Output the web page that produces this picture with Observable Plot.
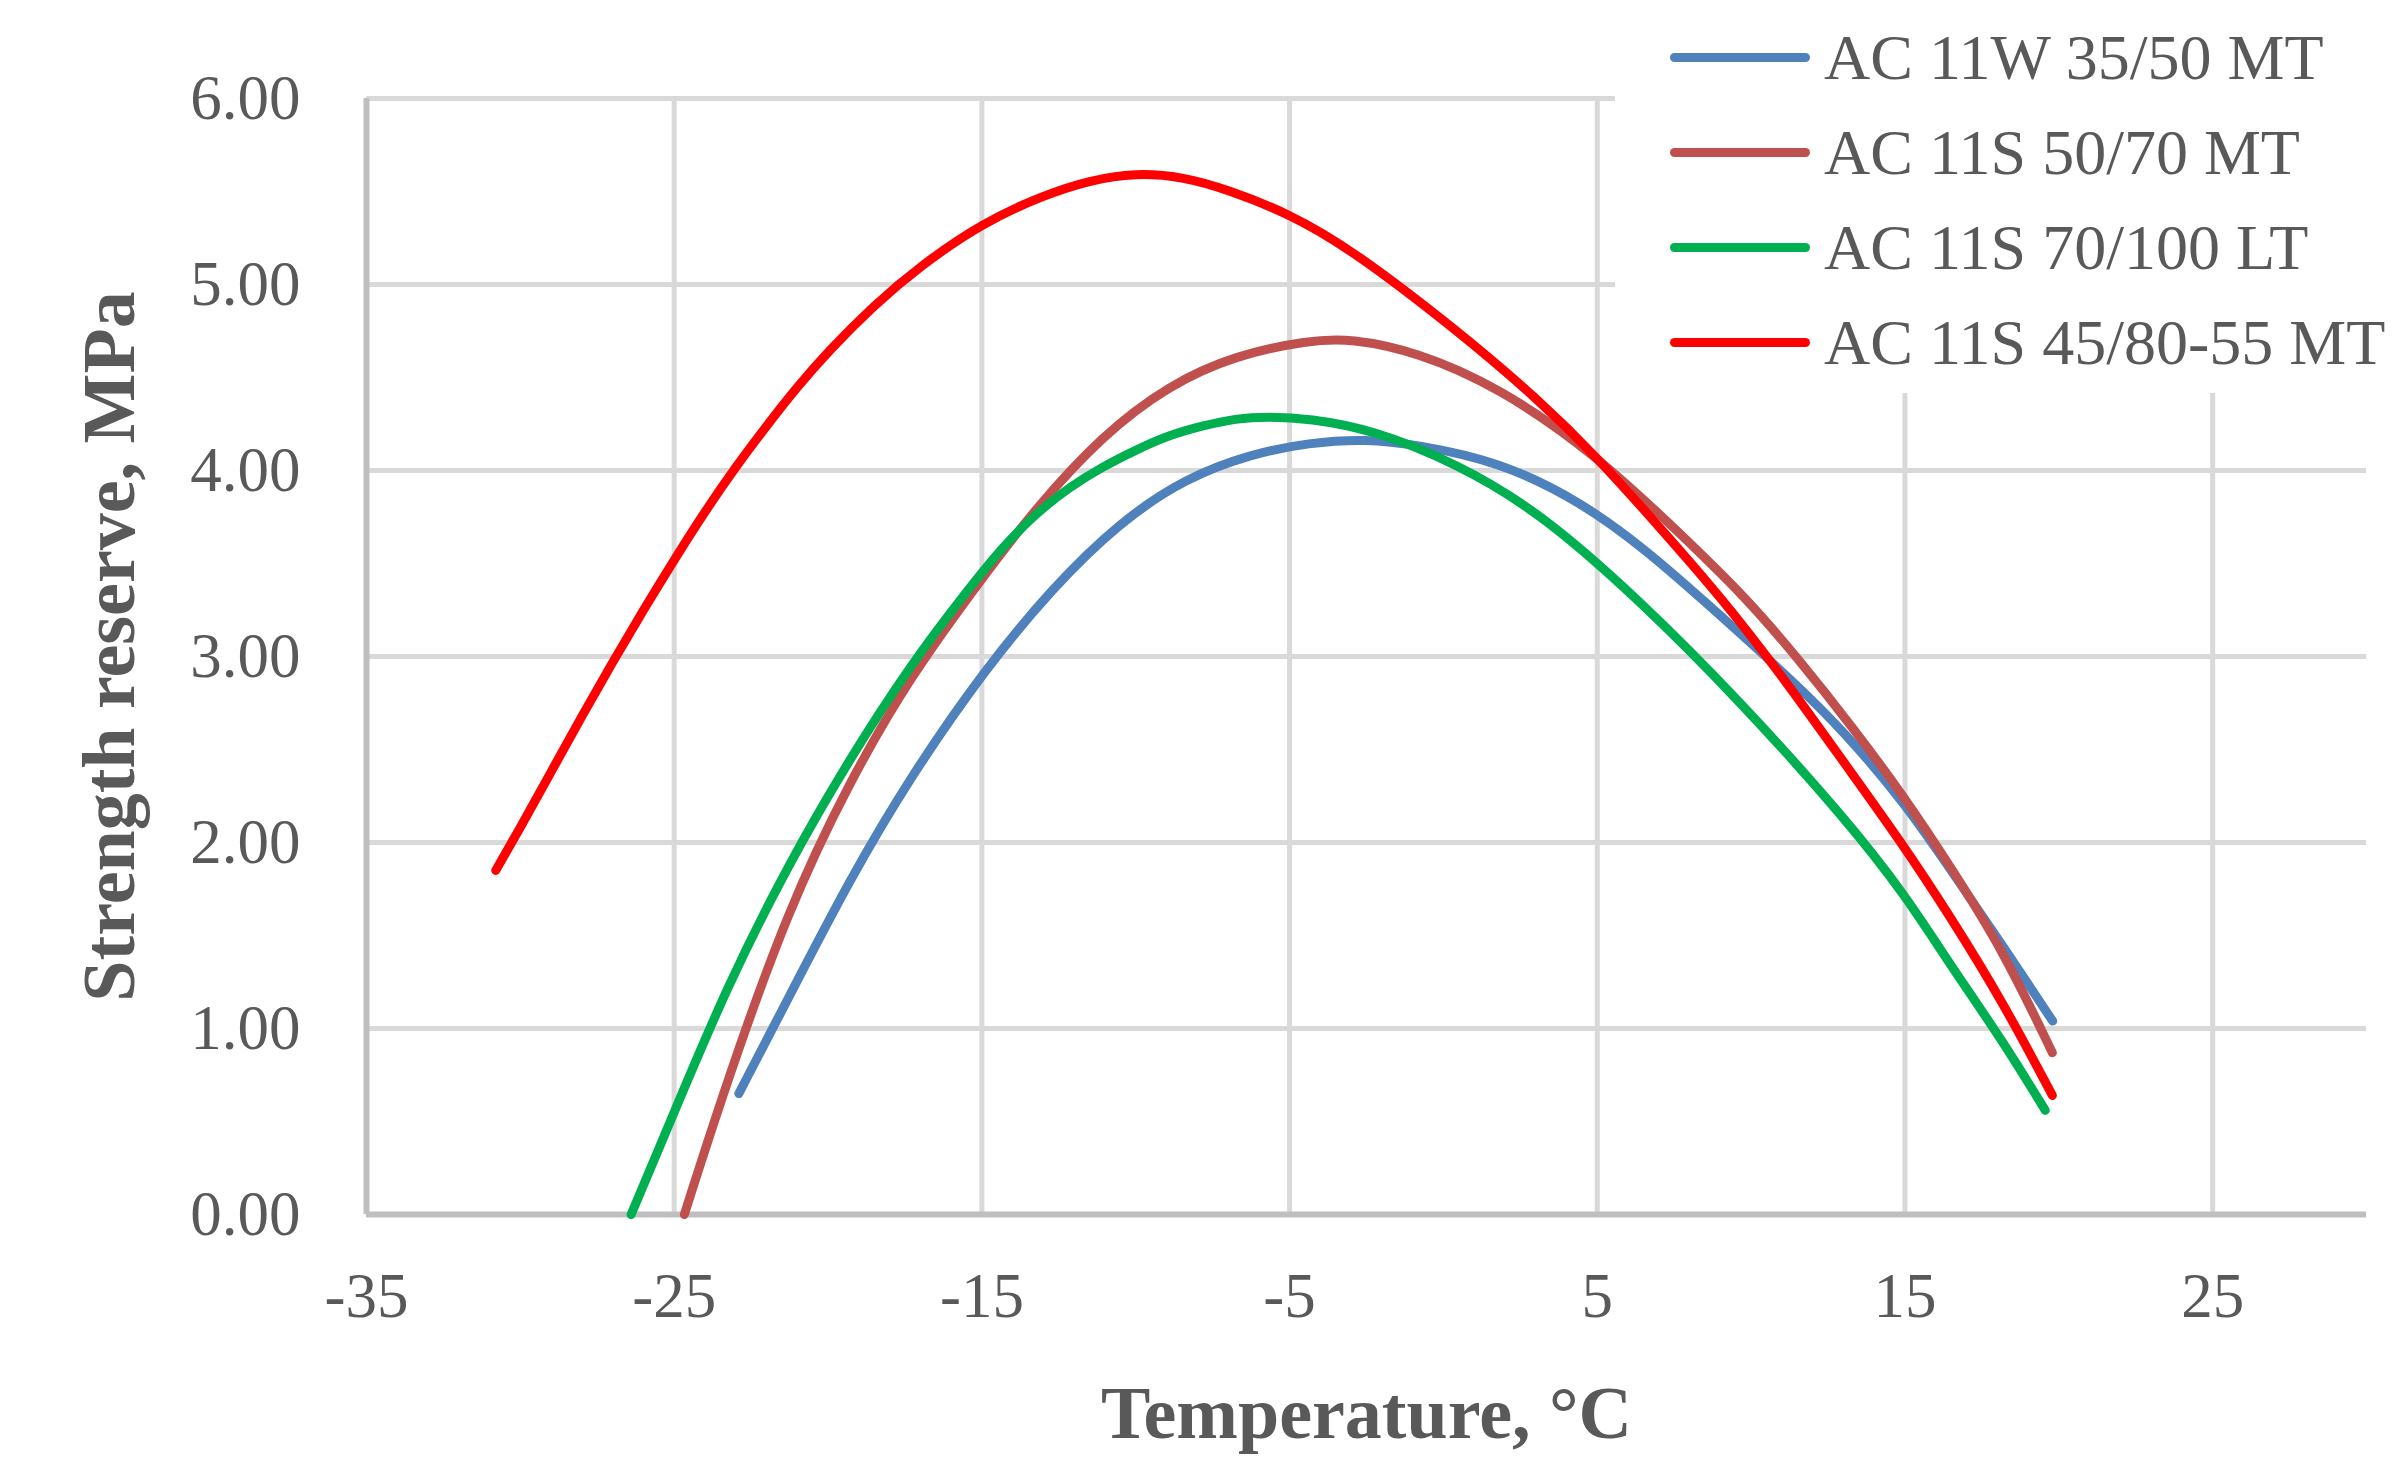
<!DOCTYPE html>
<html>
<head>
<meta charset="utf-8">
<script src="https://cdn.jsdelivr.net/npm/d3@7"></script>
<script src="https://cdn.jsdelivr.net/npm/@observablehq/plot@0.6"></script>
<style>
  html, body { margin: 0; padding: 0; background: #fff; }
  #wrap { position: relative; width: 2403px; height: 1472px; overflow: hidden; }
  #legend { position: absolute; left: 1615px; top: 0; width: 788px; height: 393px; background: #fff;
            padding-top: 10px; box-sizing: border-box; font-family: "Liberation Serif", serif; color: #595959; }
  .row { height: 95px; display: flex; align-items: center; font-size: 64px; white-space: nowrap; }
  .sw { width: 140px; height: 9px; border-radius: 4.5px; margin-left: 55px; margin-right: 14px; }
</style>
</head>
<body>
<div id="wrap"><div id="legend"></div></div>
<script>
// ---- data ----
const seriesNames = ["AC 11W 35/50 MT", "AC 11S 50/70 MT", "AC 11S 70/100 LT", "AC 11S 45/80-55 MT"];
const seriesColors = ["#4F81BD", "#C0504D", "#00B050", "#FF0000"];

const tempBlue = [-22.9, -21.3, -19.3, -17.3, -14.86, -12.7, -10.54, -8.38, -6.22, -4.38, -2.5, -0.9, 1.8, 4.5, 6.6, 8.4, 11.35, 13.06, 15, 16.5, 18.2, 19.8];
const valBlue  = [0.65, 1.16, 1.80, 2.36, 2.94, 3.37, 3.72, 3.96, 4.09, 4.15, 4.17, 4.14, 4.05, 3.83, 3.57, 3.31, 2.87, 2.59, 2.21, 1.85, 1.44, 1.04];

const tempBrown = [-24.67, -23.3, -21.3, -19.3, -17.3, -15, -13.24, -11.08, -8.92, -6.76, -4.38, -3.0, -0.9, 1.8, 5, 7.7, 9.87, 11.47, 13.3, 15, 16.48, 18.19, 19.79];
const valBrown  = [0, 0.71, 1.64, 2.33, 2.90, 3.42, 3.80, 4.19, 4.46, 4.62, 4.70, 4.71, 4.64, 4.45, 4.08, 3.66, 3.31, 3.00, 2.62, 2.24, 1.87, 1.42, 0.87];

const tempGreen = [-26.4, -25, -23.3, -21.3, -19.3, -17.3, -15.4, -14.32, -13.24, -12.16, -11.08, -10, -8.92, -7.84, -6.76, -5.68, -4.38, -2.3, 0.4, 3.1, 6.33, 9.64, 13.06, 15, 16.48, 18.19, 19.56];
const valGreen  = [0, 0.55, 1.22, 1.88, 2.45, 2.96, 3.37, 3.59, 3.77, 3.91, 4.02, 4.11, 4.19, 4.24, 4.28, 4.29, 4.28, 4.22, 4.04, 3.78, 3.31, 2.76, 2.13, 1.72, 1.34, 0.93, 0.56];

const tempRed = [-30.8, -30, -29, -28, -27, -26, -25, -24, -23, -22, -21, -20, -18.5, -17, -15, -13, -11.5, -10, -8.5, -7, -5, -3, 0.4, 3.1, 5, 7, 9.07, 11.12, 13.06, 14.89, 16.48, 18.19, 19.79];
const valRed  = [1.85, 2.08, 2.38, 2.68, 2.97, 3.25, 3.52, 3.78, 4.02, 4.24, 4.45, 4.64, 4.89, 5.10, 5.33, 5.48, 5.56, 5.60, 5.58, 5.51, 5.38, 5.19, 4.76, 4.38, 4.07, 3.70, 3.31, 2.87, 2.42, 2.00, 1.60, 1.14, 0.64];

const xTicks = [-35, -25, -15, -5, 5, 15, 25];
const yTicks = [0, 1, 2, 3, 4, 5, 6];
const xGrid = [-25, -15, -5, 5, 15, 25];
const yGrid = [1, 2, 3, 4, 5, 6];
const xTitle = "Temperature, °C";
const yTitle = "Strength reserve, MPa";

// ---- build tables ----
const temps = [tempBlue, tempBrown, tempGreen, tempRed];
const vals = [valBlue, valBrown, valGreen, valRed];
const tables = seriesNames.map((name, i) => temps[i].map((t, j) => ({series: name, t, v: vals[i][j]})));

const lineMarks = tables.map((rows, i) =>
  Plot.line(rows, {x: "t", y: "v", stroke: seriesColors[i], strokeWidth: 9, curve: "basis", strokeLinecap: "round"})
);

const chart = Plot.plot({
  width: 2403,
  height: 1472,
  marginLeft: 366,
  marginRight: 37,
  marginTop: 98,
  marginBottom: 258,
  style: {fontFamily: "'Liberation Serif', serif", fontSize: "63px", color: "#595959", background: "#fff"},
  x: {domain: [-35, 30]},
  y: {domain: [0, 6]},
  marks: [
    Plot.ruleX(xGrid, {stroke: "#d9d9d9", strokeWidth: 5}),
    Plot.ruleY(yGrid, {stroke: "#d9d9d9", strokeWidth: 5}),
    Plot.ruleX([-35], {stroke: "#bfbfbf", strokeWidth: 6}),
    Plot.ruleY([0], {stroke: "#bfbfbf", strokeWidth: 6}),
    ...lineMarks,
    Plot.axisX({ticks: xTicks, tickSize: 0, tickPadding: 58, tickFormat: d => String(d), label: null, fontSize: 63, fill: "#595959"}),
    Plot.axisY({ticks: yTicks, tickSize: 0, tickPadding: 66, tickFormat: d => d.toFixed(2), label: null, fontSize: 63, fill: "#595959"}),
    Plot.text([xTitle], {text: d => d, frameAnchor: "bottom", dy: 200, textAnchor: "middle", lineAnchor: "middle", fontSize: 74, fontWeight: "bold", fill: "#595959"}),
    Plot.text([yTitle], {text: d => d, frameAnchor: "left", dx: -256, dy: -10, textAnchor: "middle", lineAnchor: "middle", rotate: -90, fontSize: 74, fontWeight: "bold", fill: "#595959"})
  ]
});

const wrap = document.getElementById("wrap");
wrap.insertBefore(chart, wrap.firstChild);

const legend = document.getElementById("legend");
seriesNames.forEach((name, i) => {
  const row = document.createElement("div");
  row.className = "row";
  const sw = document.createElement("div");
  sw.className = "sw";
  sw.style.background = seriesColors[i];
  const label = document.createElement("span");
  label.textContent = name;
  row.appendChild(sw);
  row.appendChild(label);
  legend.appendChild(row);
});
</script>
</body>
</html>
